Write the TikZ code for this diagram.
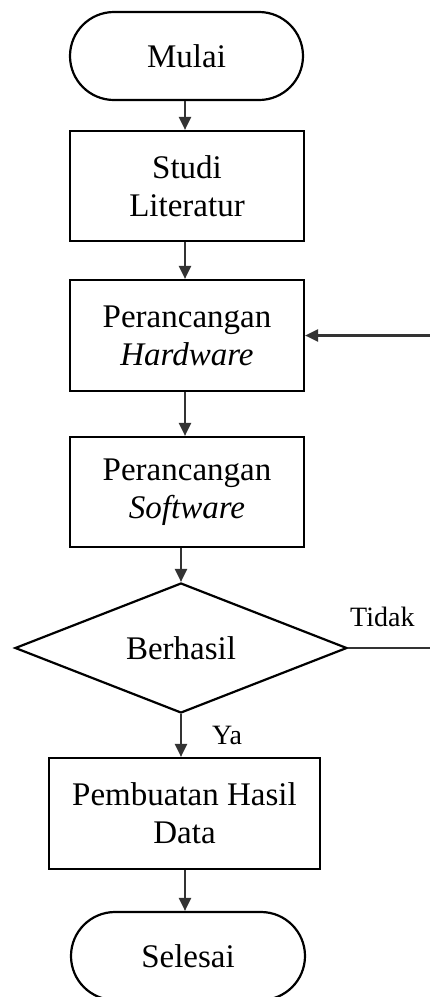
\documentclass[tikz,border=0pt]{standalone}
\usepackage{fontspec}
\setmainfont{Liberation Serif}
\usetikzlibrary{shapes.geometric,arrows.meta}
\begin{document}
\begin{tikzpicture}[x=1pt,y=-1pt,
  txt/.style={font=\fontsize{33}{38}\selectfont, align=center, inner sep=0pt},
  term/.style={txt, draw=black, line width=2.2pt, rectangle, rounded corners=44pt, minimum width=233pt, minimum height=88pt},
  proc/.style={txt, draw=black, line width=2.2pt, rectangle, minimum width=234pt, minimum height=110pt},
  decis/.style={txt, draw=black, line width=2.2pt, diamond, minimum width=332pt, minimum height=130pt, aspect=2.55},
  lbl/.style={font=\fontsize{28}{32}\selectfont, inner sep=0pt},
  arr/.style={draw=black!80, line width=2.2pt, -{Triangle[length=13pt,width=12pt]}},
  ln/.style={draw=black!80, line width=2.2pt}]
\useasboundingbox (0,0) rectangle (430,997);
\clip (0,0) rectangle (430,997);
\node[term] (mulai) at (186.5,56) {Mulai};
\node[proc] (studi) at (187,186) {Studi\\Literatur};
\node[proc, minimum height=111pt] (hard) at (187,335.5) {Perancangan\\\itshape Hardware};
\node[proc] (soft) at (187,492) {Perancangan\\\itshape Software};
\node[decis] (dia) at (181,648) {Berhasil};
\node[proc, minimum width=271pt, minimum height=111pt] (pemb) at (184.5,813.5) {Pembuatan Hasil\\Data};
\node[term, minimum width=234pt] (sel) at (188,956) {Selesai};
\coordinate (c1) at (445,648);
\coordinate (c2) at (445,335.5);
\node[lbl, anchor=west] (tidak) at (350,617) {Tidak};
\node[lbl, anchor=west] (ya) at (212,735) {Ya};
\draw[arr] (mulai.south -| 185,0) -- (studi.north -| 185,0);
\draw[arr] (studi.south -| 185,0) -- (hard.north -| 185,0);
\draw[arr] (hard.south -| 185,0) -- (soft.north -| 185,0);
\draw[arr] (soft.south -| dia.north) -- (dia.north);
\draw[arr] (dia.south) -- (dia.south |- pemb.north);
\draw[arr] (pemb.south -| 185,0) -- (sel.north -| 185,0);
\draw[ln] (dia.east) -- (c1) -- (c2);
\draw[arr] (c2) -- (hard.east);
\end{tikzpicture}
\end{document}
